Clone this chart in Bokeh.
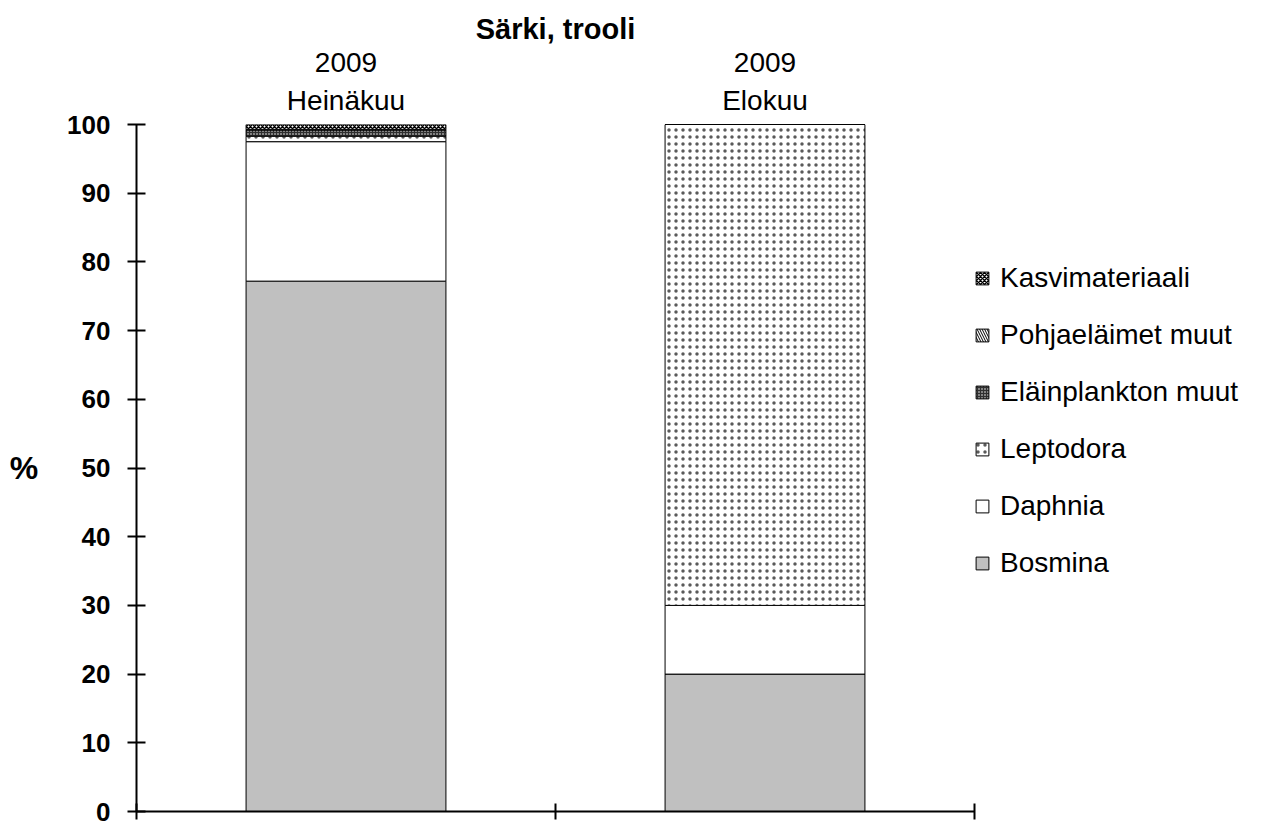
from bokeh.plotting import figure
from bokeh.models import ColumnDataSource, Legend, LegendItem, LinearAxis, FixedTicker, Range1d
from bokeh.embed import file_html
from bokeh.resources import INLINE

title_text = "Särki, trooli"
months = ["Heinäkuu", "Elokuu"]
years = ["2009", "2009"]
series = ["Bosmina", "Daphnia", "Leptodora", "Eläinplankton muut", "Pohjaeläimet muut", "Kasvimateriaali"]
bosmina = [77.2, 20.0]
daphnia = [20.3, 10.0]
leptodora = [0.8, 70.0]
elainplankton = [0.9, 0.0]
pohjaelaimet = [0.1, 0.0]
kasvimateriaali = [0.7, 0.0]
y_ticks = [0, 10, 20, 30, 40, 50, 60, 70, 80, 90, 100]

FONT = "Liberation Sans"

xs = [i + 0.5 for i in range(len(months))]
boundaries = [float(i) for i in range(len(months) + 1)]
source = ColumnDataSource(dict(
    x=xs,
    Bosmina=bosmina,
    Daphnia=daphnia,
    Leptodora=leptodora,
    **{"Eläinplankton muut": elainplankton,
       "Pohjaeläimet muut": pohjaelaimet,
       "Kasvimateriaali": kasvimateriaali},
))

p = figure(frame_width=838, frame_height=687, x_range=Range1d(0, len(months)), y_range=Range1d(0, 100),
           output_backend="svg", toolbar_location=None,
           min_border_left=136, min_border_right=270, min_border_top=124, min_border_bottom=12)
p.outline_line_color = None
p.grid.visible = False
p.background_fill_color = "white"
p.border_fill_color = "white"

p.title.text = title_text
p.title.align = "center"
p.title.text_font = FONT
p.title.text_font_size = "29px"
p.title.text_font_style = "bold"
p.title.text_color = "black"
p.title.standoff = 10

fills = ["#C0C0C0", "white", "white", "#303030", "white", "white"]
hatches = [" ", " ", "dot", "dot", "left_diagonal_line", "diagonal_cross"]
hcolors = ["black", "black", "#5a5a5a", "white", "black", "black"]
hscales = [8, 8, 7, 3, 5, 4]
hweights = [1, 1, 1, 1.2, 1, 1.5]
renderers = p.vbar_stack(series, x="x", width=0.477, source=source,
                         fill_color=fills, line_color="black", line_width=1,
                         hatch_pattern=hatches, hatch_color=hcolors, hatch_scale=hscales,
                         hatch_weight=hweights)

# y axis
ya = p.yaxis[0]
ya.ticker = FixedTicker(ticks=y_ticks)
ya.major_label_text_font = FONT
ya.major_label_text_font_size = "26px"
ya.major_label_text_font_style = "bold"
ya.major_label_text_color = "black"
ya.major_tick_in = 9
ya.major_tick_out = 9
ya.minor_tick_line_color = None
ya.axis_line_width = 2
ya.major_tick_line_width = 2
ya.major_label_standoff = 17
ya.axis_label = "%"
ya.axis_label_orientation = "horizontal"
ya.axis_label_text_font = FONT
ya.axis_label_text_font_size = "32px"
ya.axis_label_text_font_style = "bold"
ya.axis_label_text_color = "black"
ya.axis_label_standoff = 26

# x axis (below)
xa = p.xaxis[0]
xa.ticker = FixedTicker(ticks=boundaries)
xa.major_label_text_color = None
xa.major_label_text_font_size = "1px"
xa.major_label_standoff = 0
xa.major_tick_in = 8
xa.major_tick_out = 8
xa.minor_tick_line_color = None
xa.axis_line_width = 2
xa.major_tick_line_width = 2

# category labels above
def cat_axis(labels, standoff):
    ax = LinearAxis(ticker=FixedTicker(ticks=xs),
                    major_label_overrides={x: lab for x, lab in zip(xs, labels)},
                    axis_line_color=None, major_tick_line_color=None, minor_tick_line_color=None,
                    major_tick_in=0, major_tick_out=0, major_label_standoff=standoff,
                    major_label_text_font=FONT, major_label_text_font_size="28px",
                    major_label_text_color="black")
    return ax

p.add_layout(cat_axis(months, 9), "above")
p.add_layout(cat_axis(years, 10), "above")

items = [LegendItem(label=name, renderers=[r]) for name, r in zip(series, renderers)][::-1]
legend = Legend(items=items, location=(0, 232), orientation="vertical",
                glyph_width=16, glyph_height=16, label_text_font=FONT,
                label_text_font_size="28px", label_text_color="black",
                label_standoff=10, spacing=25,
                padding=0, margin=0, border_line_color=None, background_fill_alpha=0)
p.add_layout(legend, "right")

open("out.html", "w").write(file_html(p, INLINE))
